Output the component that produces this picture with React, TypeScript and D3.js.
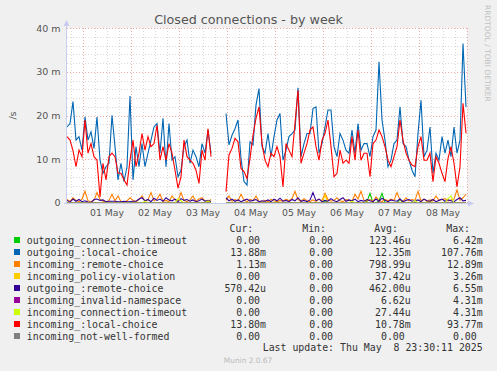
import * as d3 from "d3";

// munin "Closed connections - by week", values in milli-per-second, 1.5h steps
const START = Date.UTC(2025, 3, 30, 16);
const END = Date.UTC(2025, 4, 9, 0);
const STEP = 90 * 60 * 1000;

const localOut = [
  17.4, 18.2, 23.2, 14.4, 15.2, 12.1, 19.7, 14.4, 16.3, 12.5,
  19.7, 9.8, 6.8, 8.3, 9.1, 20.1, 12.9, 5.3, 9.1, 4.9,
  8.3, 24.5, 5.3, 12.9, 8.3, 13.6, 8.3, 11.4, 14.4, 17.4,
  18.2, 11.4, 19.4, 8.3, 18.2, 9.8, 10.6, 6.0, 7.5, 12.9,
  14.4, 9.1, 12.1, 10.6, 8.3, 13.6, 11.4, 16.7, 11.4, null,
  null, null, null, 20.5, 13.3, 15.5, 17.0, 19.0, 10.2, 4.9,
  4.1, 14.0, 13.3, 22.4, 26.2, 12.9, 11.4, 15.9, 10.6, 15.2,
  19.0, 20.5, 9.8, 12.1, 15.2, 15.9, 16.7, 26.4, 10.6, 13.6,
  15.9, 15.9, 21.6, 22.0, 11.4, 13.6, 17.4, 21.3, 21.3, 12.9,
  10.6, 15.9, 14.4, 12.1, 11.4, 16.7, 11.4, 18.2, 12.1, 13.6,
  13.6, 10.6, 15.2, 16.7, 32.3, 19.0, 14.4, 8.3, 9.8, 13.6,
  14.4, 22.0, 13.6, 12.9, 9.8, 7.5, 6.0, 15.9, 23.5, 10.6,
  12.1, 17.4, 6.8, 11.4, 9.8, 15.2, 11.4, 14.4, 10.6, 17.4,
  11.4, 14.4, 36.5, 22.0,
];

const localIn = [
  15.2, 14.4, 12.0, 8.3, 12.1, 10.6, 19.0, 11.4, 13.6, 10.6,
  9.8, 1.4, 9.1, 5.3, 10.6, 11.4, 10.6, 6.8, 6.8, 5.3,
  4.1, 9.8, 14.4, 8.3, 11.4, 15.9, 12.1, 15.2, 12.9, 13.6,
  17.8, 9.8, 12.9, 9.8, 13.6, 11.4, 7.5, 3.4, 6.0, 14.4,
  10.6, 9.8, 9.1, 7.5, 4.5, 12.1, 9.8, 17.0, 10.6, null,
  null, null, null, 2.6, 11.0, 12.5, 14.8, 14.0, 7.9, 7.2,
  5.6, 10.2, 15.5, 19.4, 22.0, 13.6, 9.8, 8.3, 11.4, 10.6,
  12.9, 10.6, 3.7, 13.6, 12.1, 10.6, 18.2, 25.8, 9.1, 11.4,
  13.6, 16.7, 17.4, 12.9, 9.8, 14.4, 15.9, 19.0, 12.9, 6.0,
  6.8, 12.1, 9.1, 9.8, 9.1, 15.2, 9.8, 16.7, 9.8, 11.4,
  11.4, 6.0, 13.6, 14.4, 16.7, 15.2, 12.9, 9.8, 8.3, 10.6,
  12.9, 19.0, 14.4, 11.4, 9.8, 8.7, 8.3, 12.9, 15.2, 9.8,
  9.8, 11.4, 4.9, 10.6, 9.1, 6.8, 4.9, 10.2, 12.9, 9.1,
  3.7, 8.3, 22.8, 16.0,
];

const remoteIn = [
  0.8, 0.4, 1.2, 0.6, 0.3, 0.9, 2.7, 0.5, 0.3, 0.6,
  2.4, 0.8, 0.4, 0.2, 0.6, 2.0, 0.5, 1.6, 0.3, 0.2,
  0.5, 1.2, 0.6, 0.3, 0.8, 1.6, 0.4, 0.7, 2.4, 0.5,
  0.9, 2.0, 0.4, 0.6, 0.3, 1.6, 0.8, 0.5, 2.4, 0.6,
  0.3, 0.7, 1.6, 0.4, 0.9, 1.2, 0.5, 0.3, 0.8, null,
  null, null, null, 0.6, 1.6, 0.4, 0.8, 0.5, 2.0, 0.7,
  0.3, 0.8, 0.5, 1.6, 0.4, 0.2, 0.6, 0.3, 0.8, 0.5,
  0.3, 0.6, 0.4, 0.9, 0.5, 1.0, 2.7, 0.8, 0.4, 1.0,
  0.5, 0.3, 0.7, 0.4, 0.9, 0.5, 2.2, 0.8, 0.4, 0.6,
  1.2, 0.5, 0.3, 0.8, 0.6, 0.4, 2.0, 0.9, 2.7, 0.6,
  0.5, 0.8, 0.4, 1.4, 0.6, 0.3, 0.8, 0.5, 0.9, 0.6,
  2.4, 0.7, 0.4, 1.2, 0.5, 0.8, 0.6, 2.7, 0.5, 0.9,
  0.4, 0.7, 0.5, 1.6, 0.6, 0.8, 1.0, 0.5, 0.7, 0.9,
  3.0, 0.6, 1.2, 2.0,
];

const remoteOut = [
  0.6, 0.2, 0.9, 0.4, 0.8, 0.3, 0.5, 0.2, 0.1, 0.8,
  0.9, 0.6, 0.7, 0.3, 0.4, 0.4, 0.4, 0.3, 0.3, 0.4,
  0.3, 0.3, 0.4, 0.4, 0.9, 1.2, 0.5, 0.8, 0.3, 1.1,
  0.6, 0.9, 0.4, 1.2, 0.7, 0.5, 0.9, 0.3, 1.0, 0.6,
  0.8, 0.4, 0.7, 0.3, 0.5, 0.9, 0.4, 0.6, 0.3, null,
  null, null, null, 1.2, 0.5, 0.9, 0.4, 0.7, 0.3, 0.6,
  0.9, 0.4, 0.6, 0.8, 0.3, 0.5, 0.4, 0.7, 0.3, 0.9,
  0.5, 1.1, 0.4, 0.6, 0.3, 0.8, 0.5, 1.2, 0.4, 0.6,
  0.3, 0.7, 2.4, 0.5, 0.9, 0.3, 0.6, 0.4, 1.0, 0.5,
  0.3, 0.8, 1.2, 0.4, 0.7, 0.5, 0.9, 0.3, 0.6, 0.4,
  0.8, 0.5, 0.3, 0.9, 0.4, 1.1, 0.6, 0.3, 0.7, 0.5,
  0.4, 0.9, 0.3, 0.6, 0.8, 0.4, 0.5, 0.7, 0.3, 0.9,
  0.5, 0.4, 0.8, 0.3, 0.6, 0.9, 0.4, 0.7, 0.5, 0.3,
  0.8, 1.2, 0.5, 0.6,
];

const timeoutOut = [
  0, 0, 0, 0, 0, 0, 0, 0, 0, 0,
  0, 0, 0, 0, 0, 0, 0, 0, 0, 0,
  0, 0, 0, 0, 0, 0, 0, 0, 0, 0,
  0, 0, 0, 0, 0, 0, 0, 0, 0, 0,
  0, 0, 0, 0, 0, 0, 0, 0, 0, null,
  null, null, null, 0, 0, 0, 0, 0, 0, 0,
  0, 0, 0, 0, 0, 0, 0, 0, 0, 0,
  0.4, 0, 0, 0, 0, 0, 0, 0, 0, 0,
  0, 0, 0, 0, 0, 0, 0.5, 0, 0, 0,
  0, 0, 0, 0, 0, 0, 0, 0, 0, 0,
  0.4, 2.2, 0, 0, 0.5, 2.2, 0, 0, 0, 0,
  0, 0.9, 0, 0, 0, 0, 0, 0, 0, 0,
  0, 0, 0, 0, 0, 0, 0, 0, 0, 0,
  0, 0, 0, 0,
];

const timeoutIn = [
  0, 0, 0, 0, 0, 0, 0, 0, 0, 0,
  0, 0, 0, 0, 0, 0, 0, 0, 0, 0,
  0, 0, 0, 0, 0, 0, 0.4, 0, 0, 0,
  0, 0, 0, 0, 0, 0, 0, 0.9, 0.5, 0,
  0, 0, 0, 0, 0, 0, 0, 0.5, 0, null,
  null, null, null, 0, 0, 0, 0, 0, 0, 0,
  0, 0, 0, 0, 0, 0, 0, 0, 0, 0,
  0, 0, 0, 0, 0, 0, 0, 0, 0, 0,
  0, 0, 0, 0, 0, 0, 0, 0, 0, 0,
  0, 0, 0, 0, 0, 0.4, 0, 0, 0, 0,
  0, 0, 0, 0, 0, 0, 0, 0, 0, 0,
  0, 0, 0, 0, 0, 0, 0.6, 0, 0, 0,
  0, 0, 0, 0, 0, 0, 0, 1.0, 1.6, 0,
  0, 0, 0, 0,
];

const policyIn = [
  0, 0, 0, 0, 0, 0, 0, 0, 0, 0,
  0, 0, 0, 0, 0, 0, 0, 0, 0, 0,
  0, 0, 0, 0, 0, 0, 0, 0, 0, 0,
  0, 0, 0, 0, 0, 0, 0, 0, 0, 0,
  0, 0, 0, 0, 0, 0, 0, 0, 0, null,
  null, null, null, 0, 0, 0, 0, 0, 0, 0,
  0, 0, 0, 0, 0, 0, 0, 0, 0, 0,
  0, 0, 0, 0, 0, 0, 0, 0, 0, 0,
  0, 0, 0, 0, 0, 0, 1.8, 0, 0, 0,
  0, 0, 0, 0, 0, 0, 0, 0, 0, 0,
  0, 0, 0, 0, 0, 0, 0, 0, 0, 0,
  0, 0, 0, 0, 0, 0, 0, 0, 0, 0,
  0, 0.6, 0, 0, 0, 0, 0, 0, 0, 0,
  0, 0, 0, 0,
];

const namespaceIn = [
  0, 0, 0, 0, 0, 0, 0, 0, 0, 0,
  0, 0, 0, 0, 0, 0, 0, 0, 0, 0,
  0, 0, 0, 0, 0, 0, 0, 0, 0, 0,
  0, 0, 0, 0, 0, 0, 0, 0, 0, 0,
  0, 0, 0, 0, 0, 0, 0, 0, 0, null,
  null, null, null, 0, 0, 0, 0, 0, 0, 0,
  0, 0, 0, 0, 0, 0, 0, 0, 0, 0,
  0, 0, 0, 0, 0, 0, 0, 0, 0, 0,
  0, 0, 0, 0, 0, 0, 0, 0, 0, 0,
  0, 0, 0, 0, 0, 0, 0, 0, 0, 0,
  0, 0, 0, 0, 0.2, 0, 0, 0, 0, 0,
  0, 0, 0, 0, 0, 0, 0, 0, 0, 0,
  0, 0, 0, 0, 0, 0, 0, 0, 0, 0,
  0, 0, 0, 0,
];

const notWellFormed = localOut.map((v) => (v == null ? null : 0));

const seriesNames = [
  "outgoing_connection-timeout",
  "outgoing_:local-choice",
  "incoming_:remote-choice",
  "incoming_policy-violation",
  "outgoing_:remote-choice",
  "incoming_invalid-namespace",
  "incoming_connection-timeout",
  "incoming_:local-choice",
  "incoming_not-well-formed",
];
const seriesColors = [
  "#00CC00", "#0066B3", "#FF8000", "#FFCC00", "#330099",
  "#990099", "#CCFF00", "#FF0000", "#808080",
];
const seriesData = [
  timeoutOut, localOut, remoteIn, policyIn, remoteOut,
  namespaceIn, timeoutIn, localIn, notWellFormed,
];

const curVals = ["0.00", "13.88m", "1.13m", "0.00", "570.42u", "0.00", "0.00", "13.80m", "0.00"];
const minVals = ["0.00", "0.00", "0.00", "0.00", "0.00", "0.00", "0.00", "0.00", "0.00"];
const avgVals = ["123.46u", "12.35m", "798.99u", "37.42u", "462.00u", "6.62u", "27.44u", "10.78m", "0.00"];
const maxVals = ["6.42m", "107.76m", "12.89m", "3.26m", "6.55m", "4.31m", "4.31m", "93.77m", "0.00"];

const yMajor = [0, 10, 20, 30, 40];
const yLabels = ["0", "10 m", "20 m", "30 m", "40 m"];

const W = 497;
const H = 371;
const SANS = "'DejaVu Sans', sans-serif";
const MONO = "'DejaVu Sans Mono', monospace";

// pad unit-less numbers so the digits line up like rrdtool does
const pad = (s: string) => (/[a-z]$/i.test(s) ? s : s + "\u00a0");

export default function App() {
  const x = d3.scaleUtc().domain([START, END]).range([67, 467]);
  const y = d3.scaleLinear().domain([0, 40]).range([203, 28.25]);

  const minorX = d3.utcHour.every(6)!.range(new Date(START), new Date(END));
  const days = d3.utcDay.range(new Date(START), new Date(END + 1));
  const dayLabels = d3.utcDay.range(new Date(START), new Date(END)).map((d) => d3.utcHour.offset(d, 12));
  const fmt = d3.utcFormat("%d %b");
  const minorY = d3.range(0, 41, 2);

  const line = d3
    .line<number | null>()
    .defined((d) => d != null)
    .x((_, i) => x(START + i * STEP))
    .y((d) => y(d as number));

  const top = y(40);
  const bottom = y(0);

  return (
    <svg width={W} height={H} style={{ position: "absolute", left: 0, top: 0 }}>
      <rect width={W} height={H} fill="#F0F0F0" />
      <rect x={67} y={top} width={400} height={bottom - top} fill="#FFFFFF" />

      <g shapeRendering="crispEdges" strokeWidth={1}>
        {minorY.map((v) => (
          <line key={"hy" + v} x1={67} x2={467} y1={Math.round(y(v)) + 0.5} y2={Math.round(y(v)) + 0.5}
            stroke="#D8D8D8" strokeDasharray="1,2" />
        ))}
        {minorX.map((d) => (
          <line key={"hx" + d.getTime()} x1={Math.round(x(d)) + 0.5} x2={Math.round(x(d)) + 0.5} y1={top} y2={bottom}
            stroke="#D8D8D8" strokeDasharray="1,2" />
        ))}
        {yMajor.map((v) => (
          <line key={"my" + v} x1={67} x2={467} y1={Math.round(y(v)) + 0.5} y2={Math.round(y(v)) + 0.5}
            stroke="#F0A8A8" strokeDasharray="1,2" />
        ))}
        {days.map((d) => (
          <line key={"mx" + d.getTime()} x1={Math.round(x(d)) + 0.5} x2={Math.round(x(d)) + 0.5} y1={top} y2={bottom}
            stroke="#F0A8A8" strokeDasharray="1,2" />
        ))}
      </g>

      {seriesData.map((s, i) => (
        <path key={seriesNames[i]} d={line(s) ?? ""} fill="none" stroke={seriesColors[i]} strokeWidth={1.1} />
      ))}

      {/* axes with arrows */}
      <line x1={66.5} x2={66.5} y1={23} y2={204} stroke="#C8CCEE" />
      <path d="M63.5,26 L66.5,20 L69.5,26 Z" fill="#C8CCEE" />
      <line x1={64} x2={470} y1={203.5} y2={203.5} stroke="#C8CCEE" />
      <path d="M468,200.5 L474,203.5 L468,206.5 Z" fill="#C8CCEE" />

      {yMajor.map((v, i) => (
        <text key={"yl" + v} x={60.5} y={y(v) + 3.4} textAnchor="end" fontFamily={SANS} fontSize={9.5} fill="#555">
          {yLabels[i]}
        </text>
      ))}
      {dayLabels.map((d) => (
        <text key={"xl" + d.getTime()} x={x(d)} y={215.5} textAnchor="middle" fontFamily={SANS} fontSize={9.3} fill="#555">
          {fmt(d)}
        </text>
      ))}

      <text x={248.5} y={23.5} textAnchor="middle" fontFamily={SANS} fontSize={12.7} fill="#555">
        Closed connections - by week
      </text>
      <text transform="translate(15.5,115.5) rotate(-90)" textAnchor="middle" fontFamily={SANS} fontSize={9.5} fill="#555">
        /s
      </text>
      <text transform="translate(484.5,5) rotate(90)" fontFamily={SANS} fontSize={7.5} fill="#C0C0C0">
        RRDTOOL / TOBI OETIKER
      </text>

      <g fontFamily={MONO} fontSize={9.9} fill="#333">
        <text x={253.3} y={231.5} textAnchor="end">Cur:</text>
        <text x={326} y={231.5} textAnchor="end">Min:</text>
        <text x={398} y={231.5} textAnchor="end">Avg:</text>
        <text x={470} y={231.5} textAnchor="end">Max:</text>
        {seriesNames.map((n, i) => {
          const ty = 243.5 + i * 12;
          return (
            <g key={"lg" + n}>
              <rect x={14} y={ty - 6.5} width={6} height={6} fill={seriesColors[i]} />
              <text x={26.7} y={ty}>{n}</text>
              <text x={266} y={ty} textAnchor="end">{pad(curVals[i])}</text>
              <text x={339} y={ty} textAnchor="end">{pad(minVals[i])}</text>
              <text x={410.7} y={ty} textAnchor="end">{pad(avgVals[i])}</text>
              <text x={482.7} y={ty} textAnchor="end">{pad(maxVals[i])}</text>
            </g>
          );
        })}
        <text x={482.7} y={351} textAnchor="end" style={{ whiteSpace: "pre" }}>
          {"Last update: Thu May  8 23:30:11 2025"}
        </text>
      </g>
      <text x={248} y={362.5} textAnchor="middle" fontFamily={SANS} fontSize={7.4} fill="#BBBBBB">
        Munin 2.0.67
      </text>
    </svg>
  );
}
